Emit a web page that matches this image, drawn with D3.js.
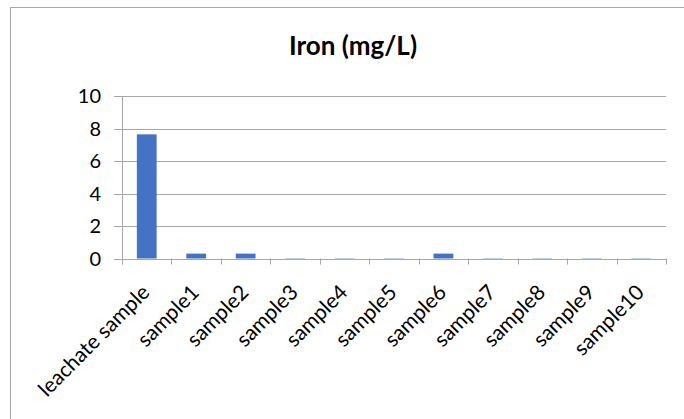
<!DOCTYPE html>
<html><head><meta charset="utf-8">
<script src="https://cdn.jsdelivr.net/npm/d3@7"></script>
<style>body{margin:0;background:#fff;} svg{display:block;font-family:Lato, "Open Sans", sans-serif;}</style>
</head><body>
<script>
const categories = ["leachate sample","sample1","sample2","sample3","sample4","sample5","sample6","sample7","sample8","sample9","sample10"];
const values = [7.64, 0.3, 0.3, 0.02, 0.02, 0.02, 0.3, 0.02, 0.02, 0.02, 0.02];
const yTicks = [0, 2, 4, 6, 8, 10];
const title = "Iron (mg/L)";

const W = 684, H = 419;
const svg = d3.select("body").append("svg").attr("width", W).attr("height", H);
svg.append("rect").attr("x", 10.5).attr("y", 7.5).attr("width", W + 10).attr("height", H + 10)
  .attr("fill", "#fff").attr("stroke", "#a6a6a6").attr("stroke-width", 1);

const L = 122, R = 666, T = 96, B = 258.5;
const x = d3.scaleBand().domain(categories).range([L, R]).paddingInner(0.6).paddingOuter(0.3);
const xb = d3.scaleBand().domain(categories).range([L, R]);
const y = d3.scaleLinear().domain([0, 10]).range([B, T]);

// gridlines
svg.append("g").selectAll("line").data(yTicks).join("line")
  .attr("x1", L - 8).attr("x2", R).attr("y1", d => Math.round(y(d)) + 0.5).attr("y2", d => Math.round(y(d)) + 0.5)
  .attr("stroke", "#a6a6a6").attr("stroke-width", 1);

// y axis line
svg.append("line").attr("x1", L + 0.5).attr("x2", L + 0.5).attr("y1", T).attr("y2", B + 6)
  .attr("stroke", "#a6a6a6");

// y labels
svg.append("g").selectAll("text").data(yTicks).join("text")
  .attr("x", 101).attr("y", d => y(d)).attr("dy", "0.36em").attr("text-anchor", "end")
  .attr("font-size", 20).attr("fill", "#000").text(d => d);

// bars
svg.append("g").selectAll("rect").data(values).join("rect")
  .attr("x", (d, i) => x(categories[i])).attr("width", x.bandwidth())
  .attr("y", d => y(d)).attr("height", d => B - y(d))
  .attr("fill", "#4472c4");

// x axis ticks
const bounds = categories.map(c => xb(c)).concat([R]);
svg.append("g").selectAll("line").data(bounds).join("line")
  .attr("x1", d => Math.round(d) + 0.5).attr("x2", d => Math.round(d) + 0.5)
  .attr("y1", B).attr("y2", B + 6).attr("stroke", "#a6a6a6");

// x labels
svg.append("g").selectAll("text").data(categories).join("text")
  .attr("transform", c => `translate(${xb(c) + xb.bandwidth() / 2 - 1},${B + 30}) rotate(-45)`)
  .attr("text-anchor", "end").attr("dy", "0.35em")
  .attr("font-size", 21).attr("fill", "#000").text(c => c);

// title
svg.append("text").attr("x", 353).attr("y", 55).attr("text-anchor", "middle")
  .attr("font-size", 26).attr("font-weight", "bold").attr("fill", "#000").text(title);
</script>
</body></html>
